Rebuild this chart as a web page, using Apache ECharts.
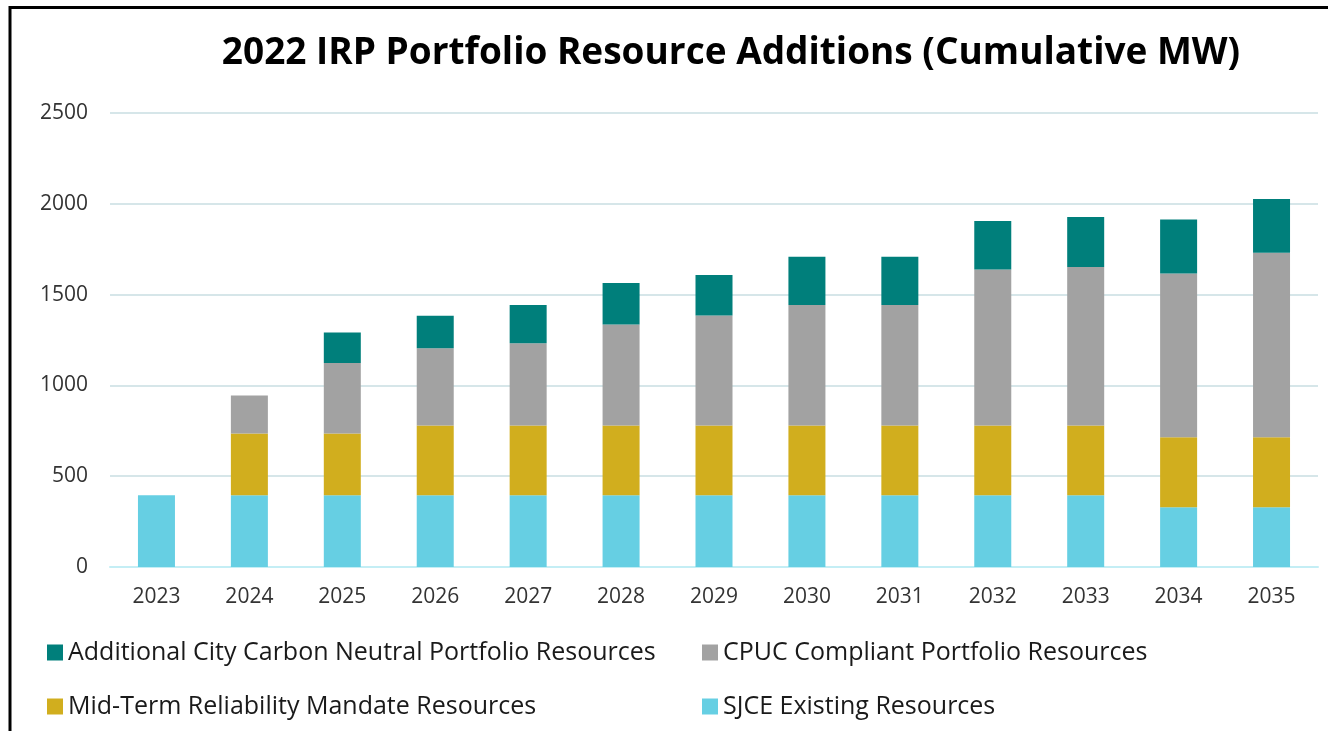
<!DOCTYPE html>
<html>
<head>
<meta charset="utf-8">
<script src="https://cdn.jsdelivr.net/npm/echarts@6/dist/echarts.min.js"></script>
<style>
    html, body { margin: 0; padding: 0; background: #fff; }
    #chart { width: 1328px; height: 731px; }
</style>
</head>
<body>
<div id="chart"></div>
<script>
// years on the x axis
var years = ['2023', '2024', '2025', '2026', '2027', '2028', '2029', '2030', '2031', '2032', '2033', '2034', '2035']

// MW per stacked segment
var sjceExisting = [395, 395, 395, 395, 395, 395, 395, 395, 395, 395, 395, 329, 329]
var midTermReliability = [0, 340, 340, 384, 384, 384, 384, 384, 384, 384, 384, 385, 385]
var cpucCompliant = [0, 210, 388, 425, 453, 556, 606, 664, 664, 859, 873, 902, 1017]
var cityCarbonNeutral = [0, 0, 168, 180, 211, 229, 223, 266, 266, 267, 275, 297, 296]

var names = [
    'Additional City Carbon Neutral Portfolio Resources',
    'CPUC Compliant Portfolio Resources',
    'Mid-Term Reliability Mandate Resources',
    'SJCE Existing Resources'
]

var font = '"Open Sans", "Liberation Sans", sans-serif'
var chart = echarts.init(document.getElementById('chart'))

function barSeries(name, data, color) {
    return {
        name: name,
        type: 'bar',
        stack: 'total',
        barWidth: 37,
        data: data,
        itemStyle: { color: color },
        emphasis: { disabled: true }
    }
}

// legend column, two items stacked
function legendCol(items, left) {
    return {
        data: items,
        orient: 'vertical',
        left: left,
        top: 634,
        itemGap: 27,
        itemWidth: 16,
        itemHeight: 16,
        icon: 'rect',
        textStyle: { fontFamily: font, fontSize: 25, lineHeight: 27, color: '#1a1a1a' }
    }
}

chart.setOption({
    animation: false,
    title: {
        text: '2022 IRP Portfolio Resource Additions (Cumulative MW)',
        left: 726,
        top: 30,
        textAlign: 'center',
        textStyle: { fontFamily: font, fontWeight: 'bold', fontSize: 37, color: '#000' }
    },
    // frame lines on the top and left edge
    graphic: [
        { type: 'line', shape: { x1: 10, y1: 7.5, x2: 1328, y2: 7.5 }, style: { stroke: '#000', lineWidth: 3 } },
        { type: 'line', shape: { x1: 10, y1: 6, x2: 10, y2: 731 }, style: { stroke: '#000', lineWidth: 3 } }
    ],
    legend: [
        legendCol([names[0], names[2]], 42),
        legendCol([names[1], names[3]], 697)
    ],
    grid: {
        left: 110,
        right: 10,
        top: 113,
        bottom: 164
    },
    xAxis: {
        type: 'category',
        data: years,
        axisTick: { show: false },
        axisLine: { lineStyle: { color: '#c4eef5', width: 2 } },
        axisLabel: { margin: 20, fontFamily: font, fontSize: 21, color: '#333' }
    },
    yAxis: {
        type: 'value',
        min: 0,
        max: 2500,
        interval: 500,
        axisLine: { show: false },
        axisTick: { show: false },
        splitLine: { lineStyle: { color: '#d6e6e9', width: 2 } },
        axisLabel: {
            margin: 22,
            fontFamily: font,
            fontSize: 21,
            color: '#333',
            formatter: function (v) { return String(v) }
        }
    },
    series: [
        barSeries(names[3], sjceExisting, '#66cfe3'),
        barSeries(names[2], midTermReliability, '#d1ae1e'),
        barSeries(names[1], cpucCompliant, '#a2a2a2'),
        barSeries(names[0], cityCarbonNeutral, '#007f7b')
    ]
})
</script>
</body>
</html>
